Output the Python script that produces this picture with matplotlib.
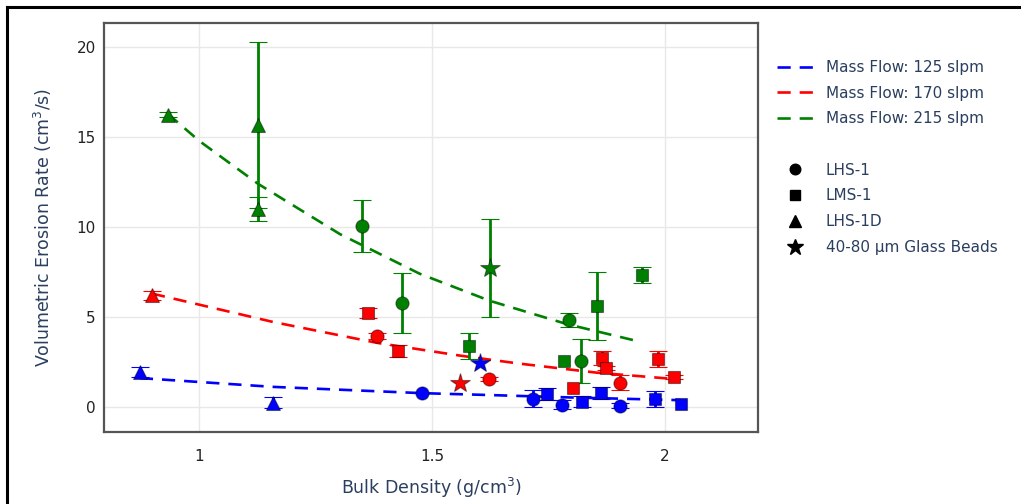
import matplotlib.pyplot as plt
from matplotlib.lines import Line2D

plt.rcParams['font.family'] = ['DejaVu Sans']
plt.rcParams['mathtext.default'] = 'regular'

# bulk density (g/cm3), erosion rate (cm3/s), error, material
x_125 = [0.873, 1.159, 1.479, 1.603, 1.717, 1.747, 1.779, 1.822, 1.863, 1.903, 1.979, 2.034]
y_125 = [1.94, 0.22, 0.78, 2.44, 0.44, 0.72, 0.11, 0.28, 0.78, 0.06, 0.44, 0.17]
e_125 = [0.3, 0.3, 0.0, 0.0, 0.47, 0.35, 0.25, 0.3, 0.35, 0.15, 0.45, 0.0]
m_125 = ['LHS-1D', 'LHS-1D', 'LHS-1', 'Glass', 'LHS-1', 'LMS-1', 'LHS-1', 'LMS-1',
         'LMS-1', 'LHS-1', 'LMS-1', 'LMS-1']

x_170 = [0.899, 1.363, 1.382, 1.427, 1.56, 1.622, 1.803, 1.865, 1.873, 1.903, 1.985, 2.019]
y_170 = [6.22, 5.22, 3.94, 3.1, 1.33, 1.55, 1.05, 2.7, 2.15, 1.33, 2.66, 1.67]
e_170 = [0.25, 0.3, 0.15, 0.35, 0.0, 0.1, 0.0, 0.4, 0.1, 0.42, 0.45, 0.1]
m_170 = ['LHS-1D', 'LMS-1', 'LHS-1', 'LMS-1', 'Glass', 'LHS-1', 'LMS-1', 'LMS-1',
         'LMS-1', 'LHS-1', 'LMS-1', 'LMS-1']

x_215 = [0.933, 1.127, 1.127, 1.35, 1.436, 1.58, 1.624, 1.783, 1.794, 1.82, 1.854, 1.95]
y_215 = [16.25, 15.67, 11.0, 10.05, 5.78, 3.39, 7.72, 2.55, 4.83, 2.55, 5.6, 7.35]
e_215 = [0.15, 4.6, 0.65, 1.45, 1.65, 0.72, 2.7, 0.0, 0.4, 1.22, 1.9, 0.45]
m_215 = ['LHS-1D', 'LHS-1D', 'LHS-1D', 'LHS-1', 'LHS-1', 'LMS-1', 'Glass', 'LMS-1',
         'LHS-1', 'LHS-1', 'LMS-1', 'LMS-1']

# fitted trend lines
fit_x_125 = [0.873, 1.159, 1.479, 1.618, 1.8, 2.034]
fit_y_125 = [1.6, 1.11, 0.76, 0.66, 0.52, 0.37]
fit_x_170 = [0.899, 1.159, 1.382, 1.56, 1.689, 1.854, 2.019]
fit_y_170 = [6.3, 4.72, 3.56, 2.85, 2.4, 1.9, 1.55]
fit_x_215 = [0.933, 1.0, 1.127, 1.303, 1.474, 1.624, 1.79, 1.95]
fit_y_215 = [16.3, 14.8, 12.4, 9.6, 7.4, 5.9, 4.6, 3.6]

flow_labels = ['Mass Flow: 125 slpm', 'Mass Flow: 170 slpm', 'Mass Flow: 215 slpm']
material_labels = ['LHS-1', 'LMS-1', 'LHS-1D', '40-80 µm Glass Beads']

markers = {'LHS-1': 'o', 'LMS-1': 's', 'LHS-1D': '^', 'Glass': '*'}
msizes = {'LHS-1': 9.5, 'LMS-1': 9, 'LHS-1D': 10.5, 'Glass': 15}
text_col = '#2a3f5f'

fig = plt.figure(figsize=(10.21, 5.04), dpi=100)
ax = fig.add_axes([104 / 1021, 72 / 504, 654 / 1021, 409 / 504])


def draw_flow(x, y, err, mat, fx, fy, color):
    ax.plot(fx, fy, color=color, lw=1.9, linestyle=(0, (5, 3.4)), zorder=2)
    for xi, yi, ei, mi in zip(x, y, err, mat):
        ax.errorbar(xi, yi, yerr=ei if ei > 0 else None, fmt=markers[mi],
                    color=color, ms=msizes[mi], mec=(0, 0, 0, 0.45), mew=0.8,
                    elinewidth=2.0, capsize=6.5, capthick=2.0, zorder=3)


draw_flow(x_125, y_125, e_125, m_125, fit_x_125, fit_y_125, 'blue')
draw_flow(x_170, y_170, e_170, m_170, fit_x_170, fit_y_170, 'red')
draw_flow(x_215, y_215, e_215, m_215, fit_x_215, fit_y_215, 'green')

ax.set_xlim(0.796, 2.2)
ax.set_ylim(-1.4, 21.35)
ax.set_xticks([1, 1.5, 2])
ax.set_xticklabels(['1', '1.5', '2'])
ax.set_yticks([0, 5, 10, 15, 20])
ax.grid(True, color='#e8e8e8', lw=1)
ax.set_axisbelow(True)
ax.tick_params(length=0, labelsize=11, colors='#222222')
ax.tick_params(axis='x', pad=12)
ax.tick_params(axis='y', pad=6)
for s in ax.spines.values():
    s.set_color('#555555')
    s.set_linewidth(1.6)

ax.set_xlabel('Bulk Density (g/cm$^3$)', fontsize=12.5, color=text_col, labelpad=9)
ax.set_ylabel('Volumetric Erosion Rate (cm$^3$/s)', fontsize=12.5, color=text_col, labelpad=16)

# legend
handles = [Line2D([], [], color=c, lw=1.9, linestyle=(0, (5, 3.4)))
           for c in ['blue', 'red', 'green']]
handles.append(Line2D([], [], color='none'))
for k in ['LHS-1', 'LMS-1', 'LHS-1D', 'Glass']:
    handles.append(Line2D([], [], color='black', marker=markers[k], ls='none',
                          ms=msizes[k] * 0.8))
labels = flow_labels + [' '] + material_labels
fig.legend(handles, labels, loc='upper left', bbox_to_anchor=(777 / 1021, 1 - 60 / 504),
           frameon=False, fontsize=11, labelcolor=text_col, handlelength=2.4,
           handletextpad=0.8, labelspacing=0.7, borderpad=0, borderaxespad=0)

# outer frame of the screenshot
fig.add_artist(Line2D([7 / 1021, 7 / 1021], [0, 1 - 6.5 / 504], color='black', lw=2.2))
fig.add_artist(Line2D([7 / 1021, 1], [1 - 6.5 / 504, 1 - 6.5 / 504], color='black', lw=2.2))

fig.savefig('out.png', dpi=100)
